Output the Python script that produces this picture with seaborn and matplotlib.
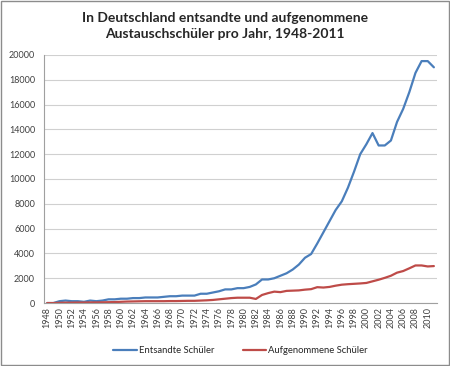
import matplotlib
matplotlib.use("Agg")
import matplotlib.pyplot as plt
from matplotlib.ticker import MultipleLocator
import numpy as np
import pandas as pd
import seaborn as sns

years = list(range(1948, 2012))

entsandt = [0, 0, 150, 200, 150, 150, 100, 200, 150, 200,
            300, 300, 350, 350, 400, 400, 450, 450, 450, 500,
            550, 550, 600, 600, 600, 750, 750, 850, 950, 1100,
            1100, 1200, 1200, 1300, 1500, 1900, 1900, 2000, 2200, 2400,
            2700, 3100, 3650, 3950, 4800, 5700, 6600, 7500, 8200, 9300,
            10600, 12000, 12800, 13700, 12700, 12700, 13100, 14600, 15650, 17000,
            18550, 19500, 19500, 19000]

aufgenommen = [0, 0, 20, 30, 30, 40, 40, 50, 50, 60,
               70, 80, 100, 120, 130, 140, 150, 150, 150, 150,
               160, 160, 170, 180, 180, 200, 220, 250, 300, 350,
               400, 430, 430, 430, 330, 650, 800, 920, 880, 980,
               1000, 1020, 1080, 1120, 1280, 1250, 1300, 1400, 1480, 1520,
               1550, 1580, 1620, 1750, 1880, 2030, 2200, 2450, 2580, 2800,
               3030, 3030, 2950, 2980]

labels = ["Entsandte Schüler", "Aufgenommene Schüler"]

df = pd.DataFrame({
    "Jahr": years * 2,
    "Schüler": entsandt + aufgenommen,
    "Serie": [labels[0]] * len(years) + [labels[1]] * len(years),
})

sns.set_style("white")
plt.rcParams["font.family"] = ["Lato", "DejaVu Sans"]

fig = plt.figure(figsize=(4.5, 3.66), dpi=100)
ax = fig.add_axes([0.098, 0.172, 0.873, 0.678])

sns.lineplot(data=df, x="Jahr", y="Schüler", hue="Serie",
             palette=["#4A7EBB", "#BE4B48"], linewidth=1.6, ax=ax)

ax.set_xlim(1947.5, 2011.5)
ax.set_ylim(0, 20000)
ax.yaxis.set_major_locator(MultipleLocator(2000))
ax.set_xticks(years[::2])
ax.set_xticklabels([str(y) for y in years[::2]], rotation=90)
ax.set_xticks(np.arange(1947.5, 2012, 1), minor=True)
ax.tick_params(axis="x", which="major", length=0, labelsize=6.5, colors="#404040", pad=3)
ax.tick_params(axis="x", which="minor", length=3, color="#A0A0A0", width=0.6)
ax.tick_params(axis="y", length=3, labelsize=6.5, colors="#404040", color="#A0A0A0")
ax.grid(axis="y", color="#D0D0D0", linewidth=0.8)
ax.set_axisbelow(True)
ax.set_xlabel("")
ax.set_ylabel("")
for side in ["top", "right"]:
    ax.spines[side].set_visible(False)
for side in ["left", "bottom"]:
    ax.spines[side].set_color("#A0A0A0")
    ax.spines[side].set_linewidth(0.8)

fig.suptitle("In Deutschland entsandte und aufgenommene\nAustauschschüler pro Jahr, 1948-2011",
             fontsize=10, fontweight="bold", y=0.968, x=0.5, linespacing=1.45)

handles, labs = ax.get_legend_handles_labels()
ax.legend(handles, labs, loc="upper center", bbox_to_anchor=(0.5, -0.14),
          ncol=2, frameon=False, fontsize=6.8, handlelength=2.5,
          columnspacing=3, handletextpad=0.2)

fig.patches.append(plt.Rectangle((0.002, 0.003), 0.995, 0.993, transform=fig.transFigure,
                                 fill=False, edgecolor="#8C8C8C", linewidth=1))

fig.savefig("out.png", dpi=100)
